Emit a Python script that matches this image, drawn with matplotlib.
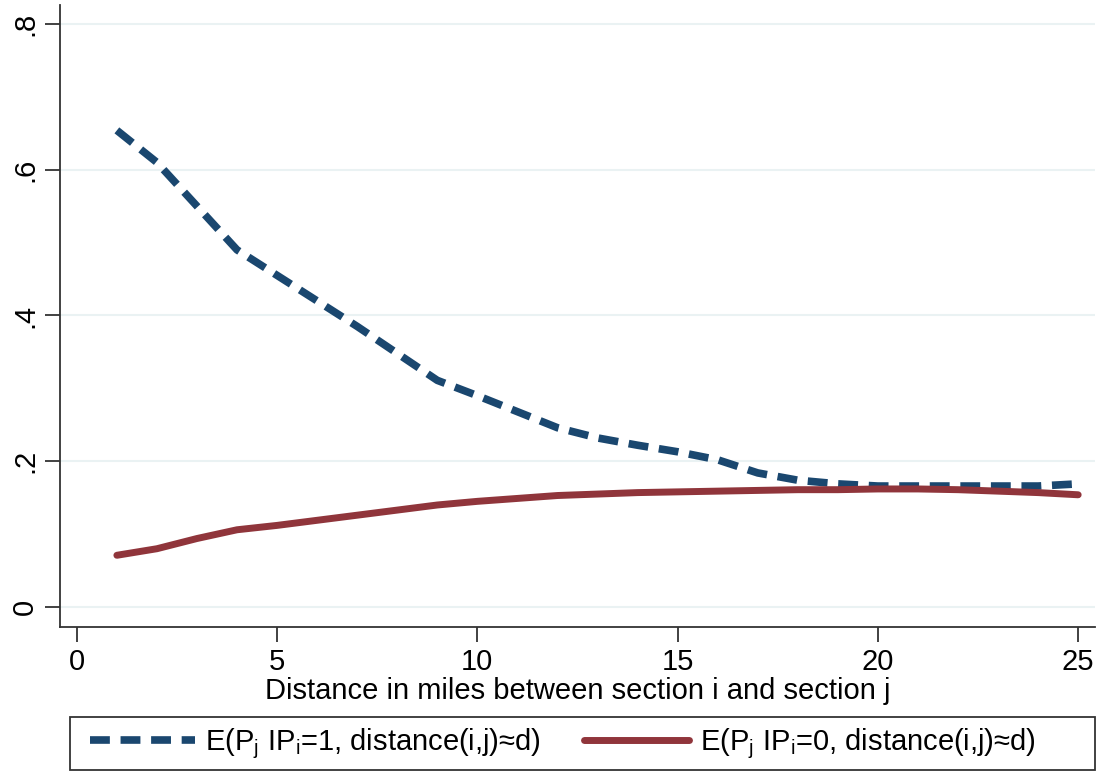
import matplotlib
matplotlib.use("Agg")
import matplotlib.pyplot as plt
from matplotlib.patches import Rectangle

plt.rcParams['font.family'] = ['Liberation Sans', 'DejaVu Sans']

distance = list(range(1, 26))
p_cond1 = [0.654, 0.610, 0.550, 0.490, 0.455, 0.420, 0.385, 0.348, 0.311, 0.290,
           0.268, 0.246, 0.232, 0.222, 0.213, 0.202, 0.184, 0.174, 0.169, 0.166,
           0.166, 0.166, 0.166, 0.166, 0.169]
p_cond0 = [0.071, 0.080, 0.094, 0.106, 0.112, 0.119, 0.126, 0.133, 0.140, 0.145,
           0.149, 0.153, 0.155, 0.157, 0.158, 0.159, 0.160, 0.161, 0.161, 0.162,
           0.162, 0.161, 0.159, 0.157, 0.154]
xticks = [0, 5, 10, 15, 20, 25]
yticks = [0, 0.2, 0.4, 0.6, 0.8]
ytick_labels = ['0', '.2', '.4', '.6', '.8']
xlabel = "Distance in miles between section i and section j"
label1 = r"E(P$_\mathregular{j}$ IP$_\mathregular{i}$=1, distance(i,j)≈d)"
label0 = r"E(P$_\mathregular{j}$ IP$_\mathregular{i}$=0, distance(i,j)≈d)"

blue = '#1a476f'
red = '#90353b'
grid = '#eaf2f3'
fs = 21

fig = plt.figure(figsize=(11.02, 7.75), dpi=100)
ax = fig.add_axes([60/1102, 1-627/775, (1095-60)/1102, (627-5)/775])

l1, = ax.plot(distance, p_cond1, color=blue, lw=5.5, dashes=(2.6, 1.4),
              dash_capstyle='butt', label=label1)
l0, = ax.plot(distance, p_cond0, color=red, lw=5.0, solid_capstyle='round',
              label=label0)

ax.set_xlim(-0.42, 25.42)
ax.set_ylim(-0.0274, 0.826)
ax.set_xticks(xticks)
ax.set_yticks(yticks)
ax.set_yticklabels(ytick_labels, rotation=90, va='center')
ax.tick_params(axis='both', labelsize=fs, length=11, width=1.3, color='#333333',
               direction='out')
ax.tick_params(axis='y', pad=4)
ax.tick_params(axis='x', pad=4)
for y in yticks:
    ax.axhline(y, color=grid, lw=1.5, zorder=0)
for s in ['top', 'right']:
    ax.spines[s].set_visible(False)
for s in ['left', 'bottom']:
    ax.spines[s].set_color('#333333')
    ax.spines[s].set_linewidth(1.3)
ax.set_xlabel(xlabel, fontsize=fs, labelpad=1)

# legend box
fig.patches.append(Rectangle((70/1102, 1-770/775), (1095-70)/1102, (770-717)/775,
                             transform=fig.transFigure, fill=False,
                             edgecolor='#333333', lw=1.3))
leg = fig.legend(handles=[l1, l0], loc='center left',
                 bbox_to_anchor=(78/1102, 1-744/775),
                 ncol=2, fontsize=fs, frameon=False, handlelength=3.6,
                 borderaxespad=0, handletextpad=0.35, columnspacing=1.5)

fig.savefig('out.png', dpi=100, facecolor='white')
